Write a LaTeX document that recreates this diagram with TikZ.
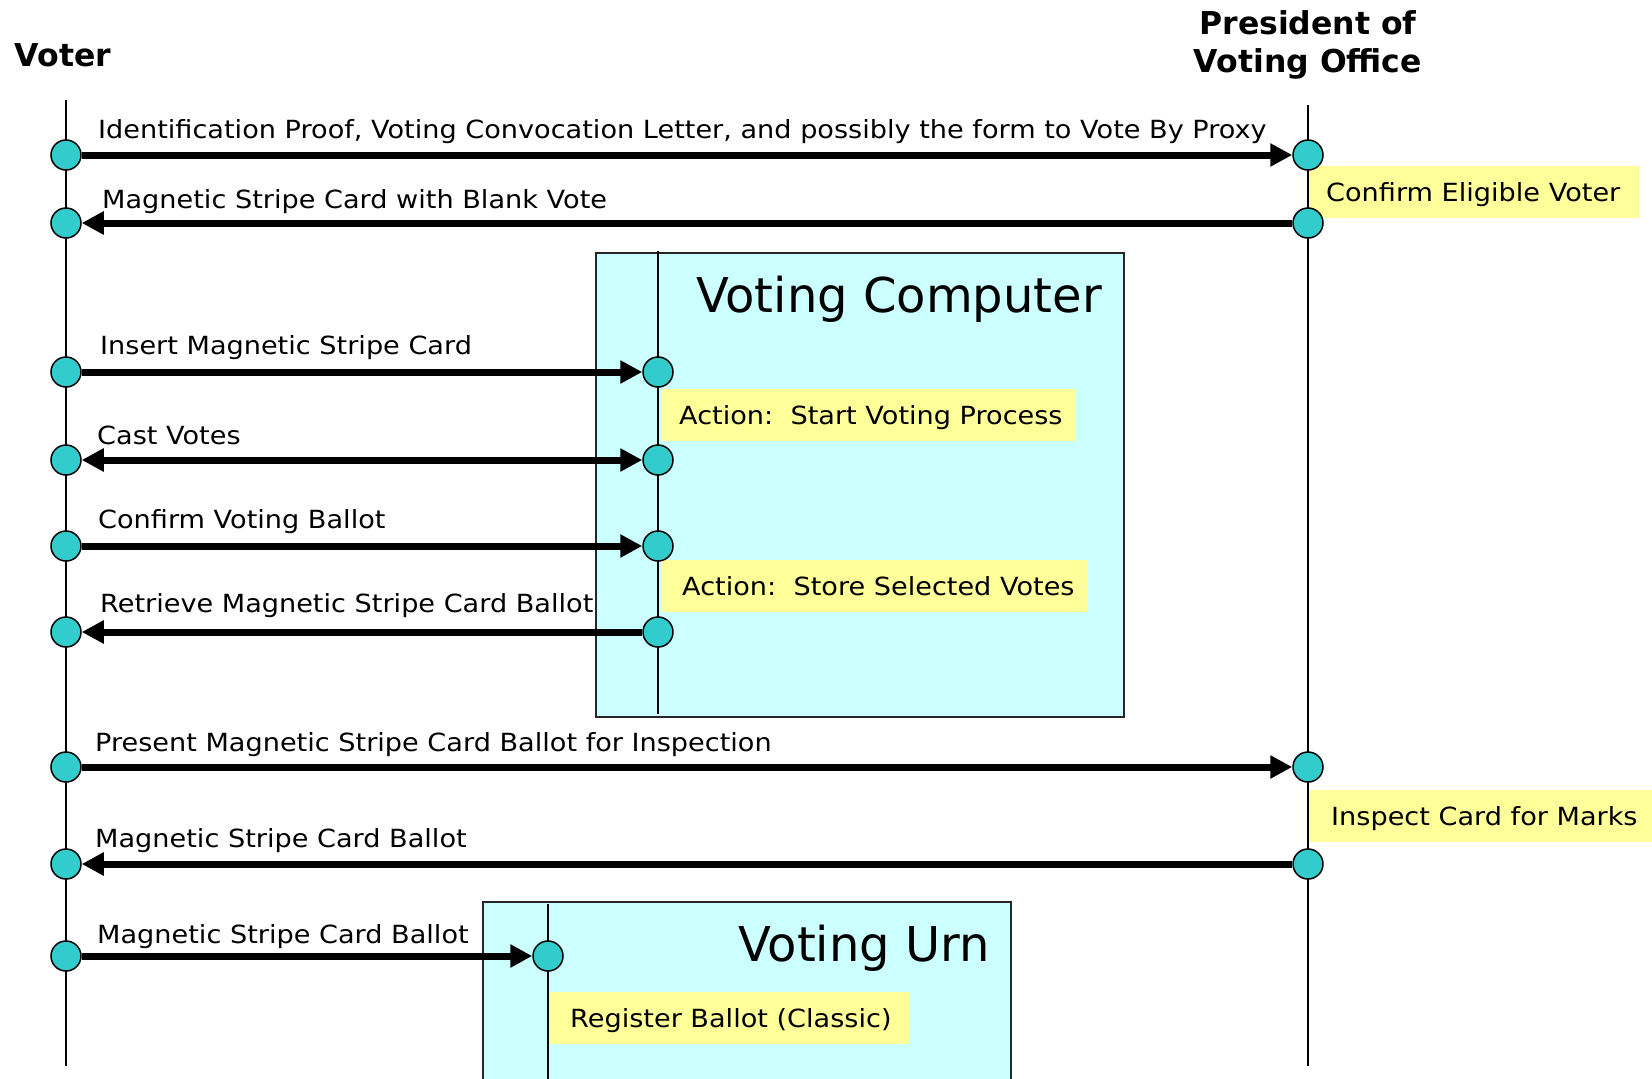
\documentclass[tikz,border=0pt]{standalone}
\usepackage{fontspec}
\setmainfont{DejaVu Sans}
\newfontfamily\lblfont[FakeStretch=1.085]{DejaVu Sans}
\usetikzlibrary{arrows.meta}
\definecolor{cyanbox}{HTML}{CCFFFF}
\definecolor{notey}{HTML}{FFFF99}
\definecolor{dotc}{HTML}{33CCCC}
\newcommand{\notetext}[2]{\makebox[#1][l]{#2}}
\begin{document}
\begin{tikzpicture}[x=1pt,y=-1pt,
  lbl/.style={anchor=base west, inner sep=0pt, font=\lblfont\fontsize{25}{30}\selectfont},
  head/.style={anchor=base, inner sep=0pt, font=\fontsize{31.5}{38}\selectfont\bfseries},
  boxtitle/.style={anchor=base east, inner sep=0pt, font=\fontsize{48}{54}\selectfont},
  dot/.style={circle, draw=black, line width=1.5pt, fill=dotc, minimum size=30pt, inner sep=0pt},
  life/.style={line width=1.5pt, draw=black},
  frame/.style={line width=1.5pt, draw=black!85},
  msg/.style={line width=7pt, -{Triangle[length=22pt,width=22pt]}},
  msgboth/.style={line width=7pt, {Triangle[length=22pt,width=22pt]}-{Triangle[length=22pt,width=22pt]}},
  notebox/.style={anchor=west, fill=notey, minimum height=52pt, inner ysep=0pt, text height=18pt, text depth=0pt, font=\lblfont\fontsize{25}{30}\selectfont}
]
\useasboundingbox (0,0) rectangle (1652,1079);

% component boxes
\fill[cyanbox] (596,253) rectangle (1124,717);
\draw[frame] (596,253) rectangle (1124,717);
\fill[cyanbox] (483,902) rectangle (1011,1079);
\draw[frame] (483,1079) -- (483,902) -- (1011,902) -- (1011,1079);
\node[boxtitle] (tcomp) at (1102,312) {Voting Computer};
\node[boxtitle] (turn) at (990,961) {Voting Urn};

% headers
\node[head] (hvoter) at (63,66) {Voter};
\node[head] (hpres1) at (1308,34) {President of};
\node[head] (hpres2) at (1308,72) {Voting Office};

% notes
\node[notebox, inner xsep=18pt] (n1) at (1308,192) {\notetext{295pt}{Confirm Eligible Voter}};
\node[notebox, inner xsep=17pt] (n2) at (662,415) {\notetext{380pt}{Action:\ \ Start Voting Process}};
\node[notebox, inner xsep=20pt] (n3) at (662,586) {\notetext{385pt}{Action:\ \ Store Selected Votes}};
\node[notebox, inner xsep=23pt] (n4) at (1308,816) {\notetext{298pt}{Inspect Card for Marks}};
\node[notebox, inner xsep=22pt] (n5) at (548,1018) {\notetext{317pt}{Register Ballot (Classic)}};

% lifelines
\coordinate (vt) at (66,100);   \coordinate (vb) at (66,1066);
\coordinate (pt) at (1308,105); \coordinate (pb) at (1308,1066);
\coordinate (ct) at (658,251);  \coordinate (cb) at (658,714);
\coordinate (ut) at (548,904);  \coordinate (ub) at (548,1079);
\draw[life] (vt) -- (vb);
\draw[life] (pt) -- (pb);
\draw[life] (ct) -- (cb);
\draw[life] (ut) -- (ub);

% activation dots
\node[dot] (v1) at (66,155) {};
\node[dot] (v2) at (66,223) {};
\node[dot] (v3) at (66,372) {};
\node[dot] (v4) at (66,460) {};
\node[dot] (v5) at (66,546) {};
\node[dot] (v6) at (66,632) {};
\node[dot] (v7) at (66,767) {};
\node[dot] (v8) at (66,864) {};
\node[dot] (v9) at (66,956) {};
\node[dot] (p1) at (1308,155) {};
\node[dot] (p2) at (1308,223) {};
\node[dot] (p7) at (1308,767) {};
\node[dot] (p8) at (1308,864) {};
\node[dot] (c3) at (658,372) {};
\node[dot] (c4) at (658,460) {};
\node[dot] (c5) at (658,546) {};
\node[dot] (c6) at (658,632) {};
\node[dot] (u9) at (548,956) {};

% messages
\draw[msg] (v1) -- (p1);
\draw[msg] (p2) -- (v2);
\draw[msg] (v3) -- (c3);
\draw[msgboth] (v4) -- (c4);
\draw[msg] (v5) -- (c5);
\draw[msg] (c6) -- (v6);
\draw[msg] (v7) -- (p7);
\draw[msg] (p8) -- (v8);
\draw[msg] (v9) -- (u9);

% labels
\node[lbl] (l1) at (98,138) {Identification Proof, Voting Convocation Letter, and possibly the form to Vote By Proxy};
\node[lbl] (l2) at (102,208) {Magnetic Stripe Card with Blank Vote};
\node[lbl] (l3) at (100,354) {Insert Magnetic Stripe Card};
\node[lbl] (l4) at (97,444) {Cast Votes};
\node[lbl] (l5) at (98,528) {Confirm Voting Ballot};
\node[lbl] (l6) at (100,612) {Retrieve Magnetic Stripe Card Ballot};
\node[lbl] (l7) at (95,751) {Present Magnetic Stripe Card Ballot for Inspection};
\node[lbl] (l8) at (95,847) {Magnetic Stripe Card Ballot};
\node[lbl] (l9) at (97,943) {Magnetic Stripe Card Ballot};
\end{tikzpicture}
\end{document}
